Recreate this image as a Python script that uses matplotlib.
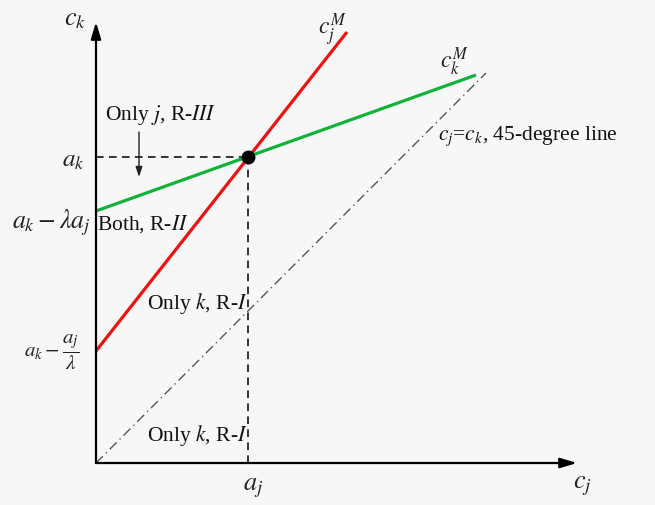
import matplotlib
matplotlib.use("Agg")
import matplotlib.pyplot as plt

# ---- data (abstract units) ----
a_j = 3.8
a_k = 7.65
red_x = [0.0, 6.275]
red_y = [2.8, 10.775]
green_x = [0.0, 9.5]
green_y = [6.3, 9.7]
diag_x = [0.0, 9.75]
diag_y = [0.0, 9.75]
x_max = 12.025
y_max = 11.025

plt.rcParams['font.family'] = ['Liberation Serif', 'DejaVu Serif']
plt.rcParams['mathtext.fontset'] = 'stix'

fig = plt.figure(figsize=(6.55, 5.06), dpi=100, facecolor='#f7f7f7')
ax = fig.add_axes([96/655, 42/506, 481/655, 441/506])
ax.set_facecolor('#f7f7f7')
ax.set_xlim(0, x_max)
ax.set_ylim(0, y_max)
for s in ax.spines.values():
    s.set_visible(False)
ax.set_xticks([])
ax.set_yticks([])

# axes arrows
ax.annotate('', xy=(x_max, 0), xytext=(0, 0),
            arrowprops=dict(arrowstyle='-|>,head_length=1.0,head_width=0.3', color='black', lw=1.6,
                            shrinkA=0, shrinkB=0), annotation_clip=False)
ax.annotate('', xy=(0, y_max), xytext=(0, 0),
            arrowprops=dict(arrowstyle='-|>,head_length=1.0,head_width=0.3', color='black', lw=1.6,
                            shrinkA=0, shrinkB=0), annotation_clip=False)

# 45 degree line
ax.plot(diag_x, diag_y, color='#555555', lw=1.0, linestyle=(0, (7, 3, 1, 3)), clip_on=False)

# dashed guide lines
ax.plot([0, a_j], [a_k, a_k], color='black', lw=1.1, linestyle=(0, (5, 3.5)))
ax.plot([a_j, a_j], [0, a_k], color='black', lw=1.1, linestyle=(0, (5, 3.5)))

# curves
ax.plot(red_x, red_y, color='#ee1111', lw=2.3, solid_capstyle='butt', clip_on=False)
ax.plot(green_x, green_y, color='#11b13a', lw=2.3, solid_capstyle='butt', clip_on=False)

# intersection
ax.plot([a_j], [a_k], 'o', color='black', markersize=9, zorder=5)

# arrow for region III
ax.annotate('', xy=(1.075, 7.15), xytext=(1.075, 8.275),
            arrowprops=dict(arrowstyle='-|>,head_length=0.6,head_width=0.2', color='#222222', lw=1.0,
                            shrinkA=0, shrinkB=0))

fs = 15.5
kw = dict(fontsize=fs, color='#111111', clip_on=False)
ax.text(-0.525, 11.1, r'$c_k$', ha='center', va='center', fontsize=19, color='#222222')
ax.text(12.15, -0.55, r'$c_j$', ha='center', va='center', fontsize=19, color='#222222')
ax.text(3.925, -0.6, r'$a_j$', ha='center', va='center', fontsize=19, color='#222222')
ax.text(-0.275, 7.575, r'$a_k$', ha='right', va='center', fontsize=18, color='#222222')
ax.text(-0.12, 6.03, r'$a_k-\lambda a_j$', ha='right', va='center', fontsize=18.5, color='#222222')
ax.text(-0.4, 2.8, r'$a_k-\dfrac{a_j}{\lambda}$', ha='right', va='center', fontsize=15, color='#222222')

ax.text(0.025, 6.0, r'Both, R-$II$', ha='left', va='center', **kw)
ax.text(0.225, 8.725, r'Only $j$, R-$III$', ha='left', va='center', **kw)
ax.text(1.275, 4.0, r'Only $k$, R-$I$', ha='left', va='center', **kw)
ax.text(1.275, 0.7, r'Only $k$, R-$I$', ha='left', va='center', **kw)

ax.text(5.55, 10.85, r'$c_j^M$', ha='left', va='center', fontsize=17, color='#222222')
ax.text(8.6, 10.05, r'$c_k^M$', ha='left', va='center', fontsize=17, color='#222222')
ax.text(8.55, 8.2, r'$c_j$=$c_k$, 45-degree line', ha='left', va='center', **kw)

fig.savefig('out.png', dpi=100, facecolor=fig.get_facecolor())
